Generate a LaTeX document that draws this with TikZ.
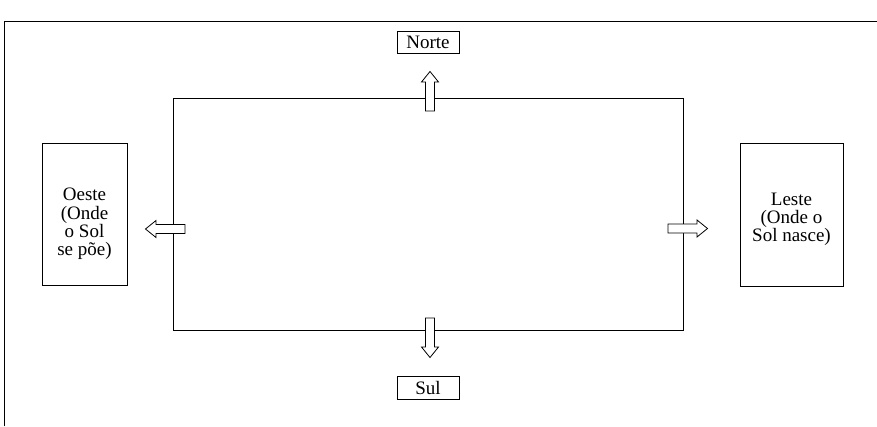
\documentclass[tikz,border=0pt]{standalone}
\usepackage{fontspec}
\setmainfont{Liberation Serif}
\tikzset{
  hollowarrow/.pic={\draw[fill=white] (0,-4.5) -- (29,-4.5) -- (29,-8.5) -- (39.5,0) -- (29,8.5) -- (29,4.5) -- (0,4.5) -- cycle;},
  boxtext/.style={draw=none}
}
\begin{document}
\begin{tikzpicture}
  [x=1pt,y=1pt,line width=.8pt,every node/.style={draw,align=center,inner sep=0pt,font=\fontsize{19}{18.2}\selectfont}]
  \useasboundingbox (0,0) rectangle (877,-426);
  % frame and field
  \draw (4,-426) -- (4,-21) -- (877,-21);
  \draw (173,-98) rectangle (683,-330);
  \node[minimum width=62pt,minimum height=22pt] (norte) at (428,-42) {Norte};
  \node[minimum width=62pt,minimum height=23pt] (sul) at (428,-387.5) {Sul};
  \node[minimum width=85pt,minimum height=142pt,
    label={[boxtext,yshift=-10pt]center:Oeste\\(Onde\\o Sol\\se põe)}] (oeste) at (84.5,-214) {};
  \node[minimum width=103pt,minimum height=143pt,
    label={[boxtext,yshift=-5pt]center:Leste\\(Onde o\\Sol nasce)}] (leste) at (791.5,-214.5) {};
  % arrows
  \foreach \x/\y/\r in {430/-111/90, 430/-318/-90, 185/-229/180, 668/-228.5/0}
    \pic[rotate=\r] at (\x,\y) {hollowarrow};
\end{tikzpicture}
\end{document}
